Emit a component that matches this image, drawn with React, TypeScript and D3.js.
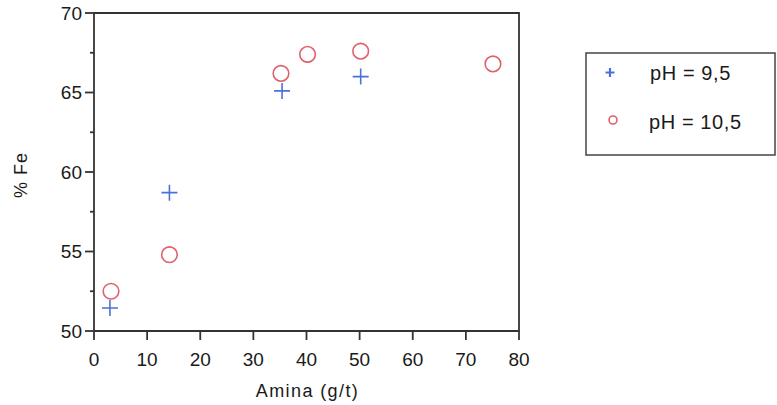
import React from "react";
import * as d3 from "d3";

const seriesNames = ["pH = 9,5", "pH = 10,5"];
const amina95 = [3, 14.2, 35.4, 50.2];
const fe95 = [51.45, 58.7, 65.1, 66.0];
const amina105 = [3.2, 14.2, 35.2, 40.2, 50.2, 75.1];
const fe105 = [52.5, 54.8, 66.2, 67.4, 67.6, 66.8];
const xTicks = [0, 10, 20, 30, 40, 50, 60, 70, 80];
const yTicks = [50, 55, 60, 65, 70];
const yMinor = [52.5, 57.5, 62.5, 67.5];

const W = 777, H = 405;
const left = 94, right = 519, top = 13, bottom = 331;
const font = "'Liberation Sans', Arial, sans-serif";
const textCol = "#1a1a1a";
const blue = "#4a72d6";
const red = "#e0606e";

export default function App() {
  const x = d3.scaleLinear().domain([0, 80]).range([left, right]);
  const y = d3.scaleLinear().domain([50, 70]).range([bottom, top]);
  const plus = (cx: number, cy: number, s: number, k: string, sw = 1.6) => (
    <path key={k} d={`M${cx - s},${cy}H${cx + s}M${cx},${cy - s}V${cy + s}`} stroke={blue} strokeWidth={sw} fill="none" />
  );
  return (
    <svg width={W} height={H} style={{ position: "absolute", left: 0, top: 0, background: "#fff" }}>
      <rect x={0} y={0} width={W} height={H} fill="#fff" />
      <path d={`M${left},${top}H${right}V${bottom}H${left}Z`} fill="none" stroke="#333" strokeWidth={1.8} />
      {yTicks.map((t) => (
        <g key={"yt" + t}>
          <line x1={left - 9} x2={left} y1={y(t)} y2={y(t)} stroke="#333" strokeWidth={1.8} />
          <text x={left - 12} y={y(t)} dy="0.36em" textAnchor="end" fontFamily={font} fontSize={19} fill={textCol}>{t}</text>
        </g>
      ))}
      {yMinor.map((t) => (
        <line key={"ym" + t} x1={left - 4} x2={left} y1={y(t)} y2={y(t)} stroke="#333" strokeWidth={1.8} />
      ))}
      {xTicks.map((t) => (
        <g key={"xt" + t}>
          <line x1={x(t)} x2={x(t)} y1={bottom} y2={bottom + 9} stroke="#333" strokeWidth={1.8} />
          <text x={x(t)} y={bottom + 35} textAnchor="middle" fontFamily={font} fontSize={19} fill={textCol}>{t}</text>
        </g>
      ))}
      <text x={(left + right) / 2 + 1} y={397} textAnchor="middle" fontFamily={font} fontSize={18} fill={textCol} letterSpacing={1.4}>Amina (g/t)</text>
      <text transform={`translate(27,${(top + bottom) / 2 + 3}) rotate(-90)`} textAnchor="middle" fontFamily={font} fontSize={18} fill={textCol} letterSpacing={1}>% Fe</text>
      {amina105.map((a, i) => (
        <circle key={"c" + i} cx={x(a)} cy={y(fe105[i])} r={7.8} fill="none" stroke={red} strokeWidth={1.6} />
      ))}
      {amina95.map((a, i) => plus(x(a), y(fe95[i]), 8, "p" + i))}
      <rect x={586} y={53} width={189} height={102} fill="#fff" stroke="#444" strokeWidth={1.5} />
      {plus(610, 72.5, 4.5, "lp", 2.2)}
      <circle cx={613} cy={120} r={4} fill="none" stroke={red} strokeWidth={1.6} />
      <text x={650} y={80} fontFamily={font} fontSize={20} fill={textCol} letterSpacing={0.6}>{seriesNames[0]}</text>
      <text x={649} y={129} fontFamily={font} fontSize={20} fill={textCol} letterSpacing={0.6}>{seriesNames[1]}</text>
    </svg>
  );
}
